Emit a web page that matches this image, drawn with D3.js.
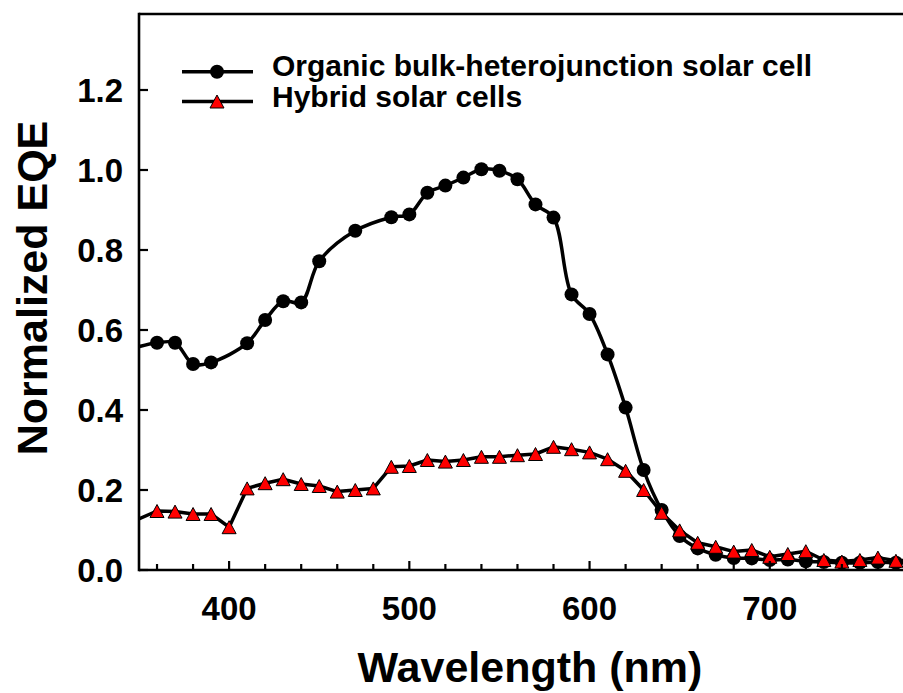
<!DOCTYPE html>
<html>
<head>
<meta charset="utf-8">
<script src="https://cdn.jsdelivr.net/npm/d3@7"></script>
<style>
  html, body { margin: 0; padding: 0; background: #fff; overflow: hidden; }
  svg { display: block; }
  text { font-family: "Liberation Sans", Arial, sans-serif; font-weight: bold; fill: #000; }
</style>
</head>
<body>
<svg id="chart" width="903" height="693"></svg>
<script>
// ---- data ----
const organicWavelength = [340, 360, 370, 380, 390, 410, 420, 430, 440, 450, 470, 490, 500, 510, 520, 530, 540, 550, 560, 570, 580, 590, 600, 610, 620, 630, 640, 650, 660, 670, 680, 690, 700, 710, 720, 730, 740, 750, 760, 770, 780, 790, 800];
const organicEQE = [0.546, 0.568, 0.568, 0.515, 0.519, 0.567, 0.625, 0.672, 0.669, 0.772, 0.848, 0.882, 0.889, 0.943, 0.961, 0.981, 1.002, 0.998, 0.977, 0.914, 0.881, 0.689, 0.640, 0.539, 0.406, 0.250, 0.150, 0.085, 0.054, 0.038, 0.030, 0.029, 0.025, 0.026, 0.022, 0.020, 0.018, 0.018, 0.020, 0.018, 0.018, 0.017, 0.017];

const hybridWavelength = [340, 360, 370, 380, 390, 400, 410, 420, 430, 440, 450, 460, 470, 480, 490, 500, 510, 520, 530, 540, 550, 560, 570, 580, 590, 600, 610, 620, 630, 640, 650, 660, 670, 680, 690, 700, 710, 720, 730, 740, 750, 760, 770, 780, 790, 800];
const hybridEQE = [0.108, 0.1475, 0.146, 0.140, 0.140, 0.107, 0.204, 0.217, 0.227, 0.215, 0.210, 0.196, 0.200, 0.204, 0.258, 0.260, 0.275, 0.271, 0.275, 0.283, 0.283, 0.287, 0.290, 0.308, 0.302, 0.294, 0.277, 0.248, 0.200, 0.143, 0.099, 0.068, 0.058, 0.046, 0.050, 0.033, 0.040, 0.047, 0.025, 0.021, 0.025, 0.031, 0.023, 0.025, 0.022, 0.020];

const xMajorTicks = [400, 500, 600, 700];
const xMinorTicks = [360, 380, 420, 440, 460, 480, 520, 540, 560, 580, 620, 640, 660, 680, 720, 740, 760, 780];
const yTicks = [0.0, 0.2, 0.4, 0.6, 0.8, 1.0, 1.2];
const seriesNames = ["Organic bulk-heterojunction solar cell", "Hybrid solar cells"];
const xTitle = "Wavelength (nm)";
const yTitle = "Normalized EQE";

// ---- layout ----
const svg = d3.select("#chart");
const pLeft = 139, pRight = 950, pTop = 14, pBottom = 570;
const x = d3.scaleLinear().domain([350, 800]).range([pLeft, pRight]);
const y = d3.scaleLinear().domain([0, 1.39]).range([pBottom, pTop]);

svg.append("defs").append("clipPath").attr("id", "plotclip")
  .append("rect").attr("x", pLeft).attr("y", pTop).attr("width", pRight - pLeft).attr("height", pBottom - pTop + 2);

const organic = organicWavelength.map((w, i) => ({w, v: organicEQE[i]}));
const hybrid = hybridWavelength.map((w, i) => ({w, v: hybridEQE[i]}));

const plot = svg.append("g").attr("clip-path", "url(#plotclip)");

const lineSmooth = d3.line().x(d => x(d.w)).y(d => y(d.v)).curve(d3.curveCatmullRom.alpha(0.5));
const lineStraight = d3.line().x(d => x(d.w)).y(d => y(d.v));

// organic series
plot.append("path").datum(organic).attr("d", lineSmooth)
  .attr("fill", "none").attr("stroke", "#000").attr("stroke-width", 3.5).attr("stroke-linejoin", "round");
plot.selectAll("circle.org").data(organic).join("circle").attr("class", "org")
  .attr("cx", d => x(d.w)).attr("cy", d => y(d.v)).attr("r", 7).attr("fill", "#000");

// hybrid series
const tri = (cx, cy, w, h) => `M${cx},${cy - h / 2}L${cx + w / 2},${cy + h / 2}L${cx - w / 2},${cy + h / 2}Z`;
plot.append("path").datum(hybrid).attr("d", lineStraight)
  .attr("fill", "none").attr("stroke", "#000").attr("stroke-width", 3.5).attr("stroke-linejoin", "round");
plot.selectAll("path.hyb").data(hybrid).join("path").attr("class", "hyb")
  .attr("d", d => tri(x(d.w), y(d.v), 14, 13))
  .attr("fill", "#ff0000").attr("stroke", "#000").attr("stroke-width", 1);

// ---- frame & axes ----
const frame = svg.append("g").attr("stroke", "#000").attr("stroke-width", 2.6).attr("fill", "none");
frame.append("line").attr("x1", pLeft).attr("x2", pRight).attr("y1", pTop).attr("y2", pTop);
frame.append("line").attr("x1", pLeft).attr("x2", pLeft).attr("y1", pTop - 1.3).attr("y2", pBottom + 1.3);
frame.append("line").attr("x1", pLeft).attr("x2", pRight).attr("y1", pBottom).attr("y2", pBottom);

svg.append("g").selectAll("line").data(xMajorTicks).join("line")
  .attr("x1", d => x(d)).attr("x2", d => x(d)).attr("y1", pBottom).attr("y2", pBottom - 9)
  .attr("stroke", "#000").attr("stroke-width", 2.2);
svg.append("g").selectAll("line").data(xMinorTicks).join("line")
  .attr("x1", d => x(d)).attr("x2", d => x(d)).attr("y1", pBottom).attr("y2", pBottom - 6)
  .attr("stroke", "#000").attr("stroke-width", 2.2);
svg.append("g").selectAll("text").data(xMajorTicks).join("text")
  .attr("x", d => x(d)).attr("y", 620).attr("text-anchor", "middle").attr("font-size", 33)
  .text(d => d);

svg.append("g").selectAll("line").data(yTicks).join("line")
  .attr("x1", pLeft).attr("x2", pLeft + 9).attr("y1", d => y(d)).attr("y2", d => y(d))
  .attr("stroke", "#000").attr("stroke-width", 2.2);
svg.append("g").selectAll("text").data(yTicks).join("text")
  .attr("x", 123).attr("y", d => y(d) + 12).attr("text-anchor", "end").attr("font-size", 33)
  .text(d => d3.format(".1f")(d));

svg.append("text").attr("x", 530).attr("y", 682).attr("text-anchor", "middle")
  .attr("font-size", 43).text(xTitle);
svg.append("text").attr("transform", `translate(47,288) rotate(-90)`)
  .attr("text-anchor", "middle").attr("font-size", 43).text(yTitle);

// ---- legend ----
const legend = svg.append("g");
const legRows = [{y: 71.7, base: 75.5, name: seriesNames[0], kind: "circle"}, {y: 101.5, base: 107, name: seriesNames[1], kind: "tri"}];
legRows.forEach(r => {
  legend.append("line").attr("x1", 182).attr("x2", 253).attr("y1", r.y).attr("y2", r.y)
    .attr("stroke", "#000").attr("stroke-width", 3.5);
  if (r.kind === "circle") {
    legend.append("circle").attr("cx", 217).attr("cy", r.y).attr("r", 7).attr("fill", "#000");
  } else {
    legend.append("path").attr("d", tri(217, r.y, 14, 13)).attr("fill", "#ff0000").attr("stroke", "#000").attr("stroke-width", 1);
  }
  legend.append("text").attr("x", 272).attr("y", r.base).attr("font-size", 30).text(r.name);
});
</script>
</body>
</html>
